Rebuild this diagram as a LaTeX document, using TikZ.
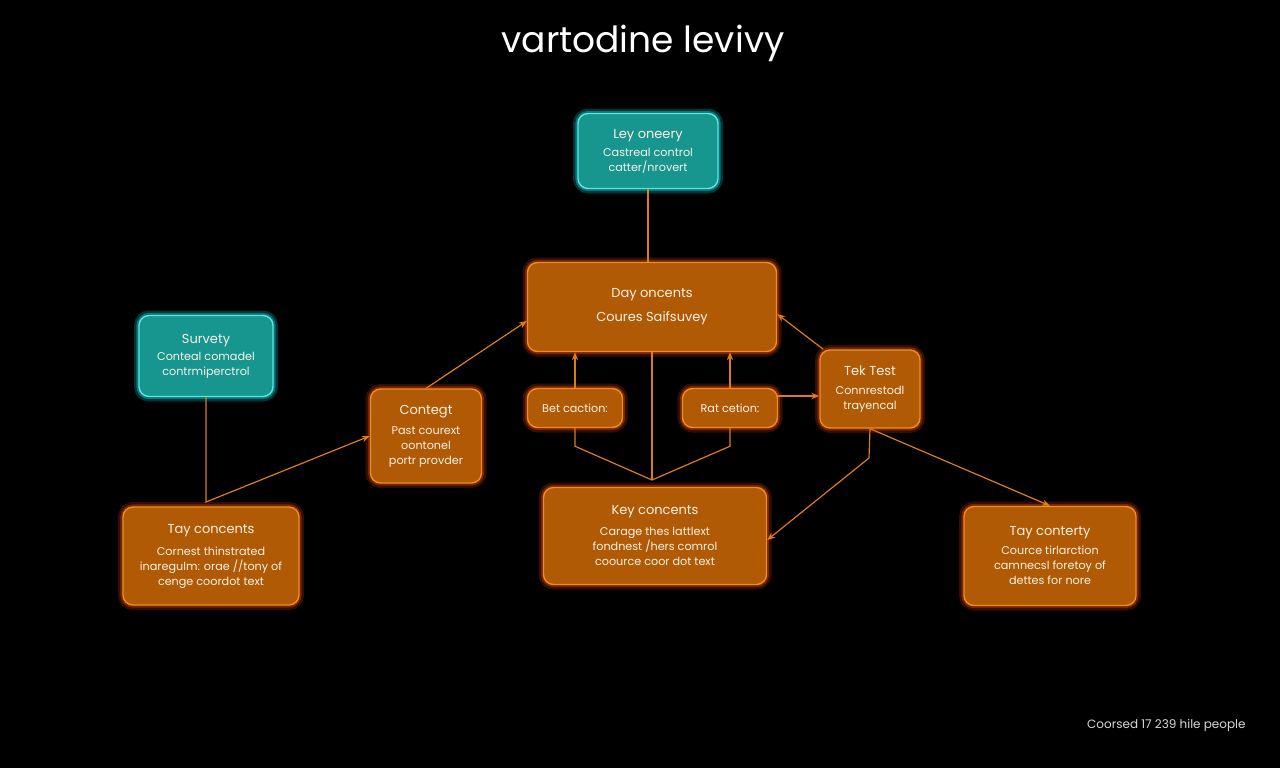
\documentclass[tikz,border=0pt]{standalone}
\usepackage{fontspec}
\setmainfont{Poppins}
\usetikzlibrary{arrows.meta,positioning}
\definecolor{boxorange}{RGB}{176,90,6}
\definecolor{edgeorange}{RGB}{242,140,34}
\definecolor{gloworange}{RGB}{225,70,10}
\definecolor{boxteal}{RGB}{22,150,142}
\definecolor{edgeteal}{RGB}{90,232,226}
\definecolor{glowteal}{RGB}{20,200,205}
\definecolor{wireorange}{RGB}{222,124,22}
\definecolor{textcream}{RGB}{252,242,228}
\definecolor{footgray}{RGB}{215,215,215}
\newcommand{\headtxt}[1]{{\fontsize{6.5}{7.5}\selectfont #1}}

\begin{document}
\begin{tikzpicture}[x=0.5pt, y=-0.5pt,
    orangebox/.style={draw=edgeorange, fill=boxorange, line width=0.7pt,
        rounded corners=5pt, text=textcream, align=center, inner sep=2pt,
        font=\fontsize{5.6}{7.5}\selectfont,
        preaction={draw=gloworange, line width=5pt, opacity=0.22},
        preaction={draw=gloworange, line width=2.6pt, opacity=0.4}},
    tealbox/.style={draw=edgeteal, fill=boxteal, line width=0.7pt,
        rounded corners=5pt, text=textcream, align=center, inner sep=2pt,
        font=\fontsize{5.6}{7.5}\selectfont,
        preaction={draw=glowteal, line width=5pt, opacity=0.25},
        preaction={draw=glowteal, line width=2.6pt, opacity=0.45}},
    wire/.style={draw=wireorange, line width=0.6pt},
    arrowwire/.style={wire, -{Stealth[length=4pt,width=3.2pt]}}]

    \fill[black] (0,0) rectangle (1280,768);

    \node[text=white, font=\fontsize{18}{20}\selectfont] (title) at (643,43) {vartodine levivy};

    \node[tealbox, minimum width=70pt, minimum height=37.5pt] (lay) at (648,151)
        {\headtxt{Ley oneery}\\[1.5pt]Castreal control\\catter/nrovert};
    \node[orangebox, minimum width=124.5pt, minimum height=44.5pt] (main) at (652,307)
        {\headtxt{Day oncents}\\[4.5pt]\headtxt{Coures Saifsuvey}};
    \node[tealbox, minimum width=67pt, minimum height=40.5pt] (survey) at (206,356)
        {\headtxt{Survety}\\[1pt]Conteal comadel\\contrmiperctrol};
    \node[orangebox, minimum width=55.5pt, minimum height=47pt] (contegt) at (426,436)
        {\headtxt{Contegt}\\[2.5pt]Past courext\\oontonel\\portr provder};
    \node[orangebox, minimum width=47.5pt, minimum height=19.5pt] (bet) at (575,408) {Bet caction:};
    \node[orangebox, minimum width=47.5pt, minimum height=19.5pt] (rat) at (730,408) {Rat cetion:};
    \node[orangebox, minimum width=50pt, minimum height=39pt] (tek) at (870,389)
        {\headtxt{Tek Test}\\[2pt]Connrestodl\\trayencal};
    \node[orangebox, minimum width=88pt, minimum height=49pt] (tayone) at (211,556)
        {\headtxt{Tay concents}\\[3.5pt]Cornest thinstrated\\inaregulm: orae //tony of\\cenge coordot text};
    \node[orangebox, minimum width=111.5pt, minimum height=48.5pt] (key) at (655,536)
        {\headtxt{Key concents}\\[3pt]Carage thes lattlext\\fondnest /hers comrol\\coource coor dot text};
    \node[orangebox, minimum width=86pt, minimum height=49.5pt] (taytwo) at (1050,556)
        {\headtxt{Tay conterty}\\[2pt]Cource tirlarction\\camnecsl foretoy of\\dettes for nore};

    \node[text=footgray, anchor=east, inner sep=0pt, font=\fontsize{6}{8}\selectfont] (foot) at (1246,725) {Coorsed 17 239 hile people};

    \coordinate (survbend) at (206,502);
    \coordinate (junc) at (652,480);
    \coordinate (tekbend) at (869,458);

    \draw[wire] (lay.south) -- (lay.south |- main.north);
    \draw[arrowwire] (survey.south) -- (survbend) -- (contegt.west);
    \draw[arrowwire] (contegt.north) -- ([yshift=-7pt]main.west);
    \draw[arrowwire] (bet.north) -- (bet.north |- main.south);
    \draw[arrowwire] (rat.north) -- (rat.north |- main.south);
    \draw[wire] (bet.south) -- ++(0,18) -- (junc);
    \draw[wire] (rat.south) -- ++(0,18) -- (junc);
    \draw[wire] (main.south) -- (junc);
    \draw[arrowwire] ([yshift=6pt]rat.east) -- ([yshift=6pt]rat.east -| tek.west);
    \draw[arrowwire] ([xshift=2pt]tek.north west) -- ([yshift=-3.5pt]main.east);
    \draw[arrowwire] (tek.south) -- (tekbend) -- ([yshift=-2pt]key.east);
    \draw[arrowwire] (tek.south) -- (taytwo.north);
\end{tikzpicture}
\end{document}
